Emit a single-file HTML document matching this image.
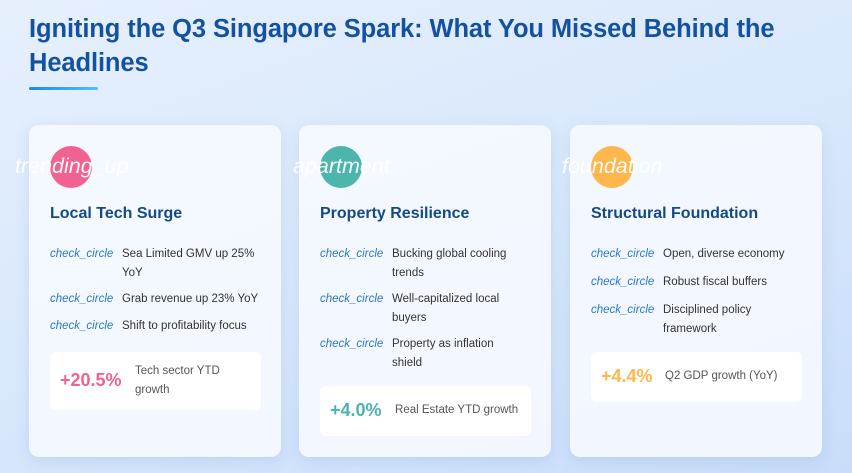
<!DOCTYPE html>
<html><head><meta charset="utf-8"><style>
*{margin:0;padding:0;box-sizing:border-box}
body{width:852px;height:473px;overflow:hidden;font-family:"Liberation Sans",sans-serif;background:linear-gradient(160deg,#e6f0fd 0%,#d9e8fc 50%,#c9ddfa 100%);position:relative}
h1{position:absolute;left:29px;top:12px;width:800px;font-size:25.5px;line-height:34px;color:#1452a0;font-weight:bold;letter-spacing:-0.1px}
.ul{position:absolute;left:29px;top:87px;width:69px;height:3px;border-radius:2px;background:linear-gradient(90deg,#1e88e5,#4fc3f7)}
.card{position:absolute;top:125px;width:252px;height:332px;background:rgba(245,249,255,0.92);border-radius:10px;box-shadow:0 4px 14px rgba(100,140,200,0.18)}
.circ{position:absolute;left:21px;top:21px;width:42px;height:42px;border-radius:50%}
.itxt{position:absolute;top:29px;color:#fff;font-style:italic;font-size:21.5px;white-space:nowrap;opacity:.95}
.title{position:absolute;left:21px;top:80px;font-size:16px;font-weight:bold;color:#134a86}
.li{position:absolute;left:21px;width:230px;font-size:11.5px;line-height:19px;color:#333;white-space:nowrap}
.li i{position:absolute;left:0;top:0;color:#2a78c8;font-size:11.5px}
.li span{display:block;margin-left:72px}
.stat{position:absolute;left:21px;width:211px;height:58px;background:#fff;border-radius:6px}
.val{position:absolute;left:10px;font-size:18px;font-weight:bold}
.lab{position:absolute;left:85px;font-size:11.5px;line-height:19px;color:#555;white-space:nowrap}
</style></head><body>
<h1>Igniting the Q3 Singapore Spark: What You Missed Behind the Headlines</h1>
<div class="ul"></div>

<div class="card" style="left:29px">
<div class="circ" style="background:#f06292"></div>
<div class="itxt" style="left:-14px">trending_up</div>
<div class="title">Local Tech Surge</div>
<div class="li" style="top:120px"><i>check_circle</i><span>Sea Limited GMV up 25%<br>YoY</span></div>
<div class="li" style="top:165px"><i>check_circle</i><span>Grab revenue up 23% YoY</span></div>
<div class="li" style="top:192px"><i>check_circle</i><span>Shift to profitability focus</span></div>
<div class="stat" style="top:227px"><div class="val" style="top:18px;color:#f06292">+20.5%</div><div class="lab" style="top:10px">Tech sector YTD<br>growth</div></div>
</div>

<div class="card" style="left:299px">
<div class="circ" style="background:#4db6ac"></div>
<div class="itxt" style="left:-6px">apartment</div>
<div class="title">Property Resilience</div>
<div class="li" style="top:120px"><i>check_circle</i><span>Bucking global cooling<br>trends</span></div>
<div class="li" style="top:165px"><i>check_circle</i><span>Well-capitalized local<br>buyers</span></div>
<div class="li" style="top:210px"><i>check_circle</i><span>Property as inflation<br>shield</span></div>
<div class="stat" style="top:261px;height:50px"><div class="val" style="top:14px;color:#4db6ac">+4.0%</div><div class="lab" style="left:75px;top:15px">Real Estate YTD growth</div></div>
</div>

<div class="card" style="left:570px">
<div class="circ" style="background:#ffb74d"></div>
<div class="itxt" style="left:-8px">foundation</div>
<div class="title">Structural Foundation</div>
<div class="li" style="top:120px"><i>check_circle</i><span>Open, diverse economy</span></div>
<div class="li" style="top:148px"><i>check_circle</i><span>Robust fiscal buffers</span></div>
<div class="li" style="top:176px"><i>check_circle</i><span>Disciplined policy<br>framework</span></div>
<div class="stat" style="top:227px;height:50px"><div class="val" style="top:14px;color:#ffb74d">+4.4%</div><div class="lab" style="left:74px;top:15px">Q2 GDP growth (YoY)</div></div>
</div>
</body></html>
